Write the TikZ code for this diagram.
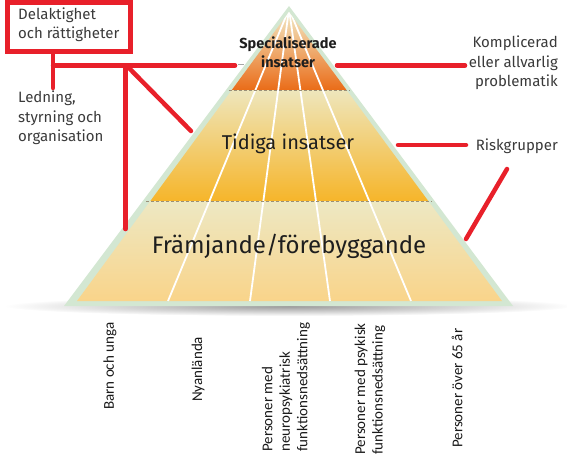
\documentclass[tikz,border=0pt]{standalone}
\usepackage{fontspec}
\setmainfont{Fira Sans}
\newfontfamily\calib{Carlito}
\usetikzlibrary{calc}
\definecolor{redline}{HTML}{E8202A}
\definecolor{pgreen}{HTML}{D3E7D2}
\definecolor{txtgray}{HTML}{3A3A3A}
\definecolor{txtdark}{HTML}{1E1E1E}
\definecolor{dashgray}{HTML}{9A9078}
\begin{document}
\begin{tikzpicture}[x=1pt,y=-1pt,
  redcon/.style={draw=redline, line width=4.5pt, line cap=round},
  callout/.style={font=\fontsize{15}{19.5}\selectfont, text=txtgray, inner sep=0pt},
  tier/.style={text=txtdark, inner sep=0pt, align=center},
  grp/.style={font=\calib\fontsize{15}{17.5}\selectfont, text=black!90, rotate=90, anchor=west, align=left, inner sep=0pt},
  wline/.style={draw=white, line width=1.8pt},
  tierdash/.style={draw=dashgray, line width=0.8pt, dash pattern=on 3pt off 2pt}
  ]
\useasboundingbox (0,0) rectangle (567,464);

% shadow
\shade[inner color=black!40, outer color=white] (289,306) ellipse [x radius=285, y radius=10];

% pyramid outer border
\fill[pgreen] (289,6) -- (513,306) -- (64,306) -- cycle;

% inner geometry
\coordinate (apex) at (289,12);
\coordinate (bl) at (77,301);
\coordinate (br) at (502,301);
\coordinate (l1) at ($(apex)!0.27!(bl)$);
\coordinate (r1) at ($(apex)!0.27!(br)$);
\coordinate (l2) at ($(apex)!0.654!(bl)$);
\coordinate (r2) at ($(apex)!0.654!(br)$);

\shade[top color={rgb,255:red,243;green,233;blue,196}, middle color={rgb,255:red,243;green,196;blue,140}, bottom color={rgb,255:red,234;green,108;blue,24}]
  (apex) -- (r1) -- (l1) -- cycle;
\shade[top color={rgb,255:red,238;green,230;blue,188}, middle color={rgb,255:red,242;green,210;blue,130}, bottom color={rgb,255:red,246;green,181;blue,42}]
  (l1) -- (r1) -- (r2) -- (l2) -- cycle;
\shade[top color={rgb,255:red,237;green,232;blue,195}, bottom color={rgb,255:red,249;green,212;blue,138}]
  (l2) -- (r2) -- (br) -- (bl) -- cycle;

% white lane lines
\begin{scope}
  \clip (apex) -- (br) -- (bl) -- cycle;
  \coordinate (top) at (289,9);
  \draw[wline] (top) -- (168,301);
  \draw[wline] (top) -- (250,301);
  \draw[wline] (top) -- (330,301);
  \draw[wline] (top) -- (411,301);
\end{scope}

% dashed tier borders
\draw[tierdash] ($(l1)+(-3,0)$) -- ($(r1)+(3,0)$);
\draw[tierdash] ($(l2)+(-4,0)$) -- ($(r2)+(4,0)$);

% tier labels
\node[tier, font=\bfseries\fontsize{14.5}{19}\selectfont] (spec) at (288,52) {Specialiserade\\insatser};
\node[tier, font=\fontsize{20}{24}\selectfont] (tidiga) at (288,144) {Tidiga insatser};
\node[tier, font=\fontsize{24}{28}\selectfont] (framj) at (289,246) {Främjande/förebyggande};

% callout texts
\node[draw=redline, line width=5pt, minimum width=123pt, minimum height=49pt, inner sep=0pt] (box) at (68.5,26.5) {};
\node[callout, anchor=north west, align=left] (delak) at (18,7.5) {Delaktighet\\och rättigheter};
\node[callout, anchor=north west, align=left] (led) at (18,91) {Ledning,\\styrning och\\organisation};
\node[callout, anchor=east, align=right] (kompl) at (558,63) {Komplicerad\\eller allvarlig\\problematik};
\node[callout, anchor=east] (risk) at (558,146) {Riskgrupper};

% red connectors
\coordinate (ledtop) at (53,88);
\coordinate (hL) at (53,65.5);
\coordinate (hR) at (235,65.5);
\coordinate (v1) at (125.5,68);
\coordinate (v2) at (125.5,229);
\coordinate (d1) at (128,67);
\coordinate (d2) at (191,131);
\coordinate (k1) at (337,65.5);
\coordinate (k2) at (465,65.5);
\coordinate (rk1) at (398,145);
\coordinate (rk2) at (466,145);
\coordinate (rd1) at (507,169);
\coordinate (rd2) at (466,239);

\draw[redcon] (box.south -| hL) -- (ledtop);
\draw[redcon] (hL) -- (hR);
\draw[redcon] (v1) -- (v2);
\draw[redcon] (d1) -- (d2);
\draw[redcon] (k1) -- (k2);
\draw[redcon] (rk1) -- (rk2);
\draw[redcon] (rd1) -- (rd2);
\draw[gray!70, line width=0.9pt] (238,64) -- (244,64);

% group labels
\node[grp] (g1) at (110,410) {Barn och unga};
\node[grp] (g2) at (198,402) {Nyanlända};
\node[grp] (g3) at (286,452) {Personer med\\neuropsykiatrisk\\funktionsnedsättning};
\node[grp] (g4) at (370,455) {Personer med psykisk\\funktionsnedsättning};
\node[grp] (g5) at (457,448) {Personer över 65 år};
\end{tikzpicture}
\end{document}
